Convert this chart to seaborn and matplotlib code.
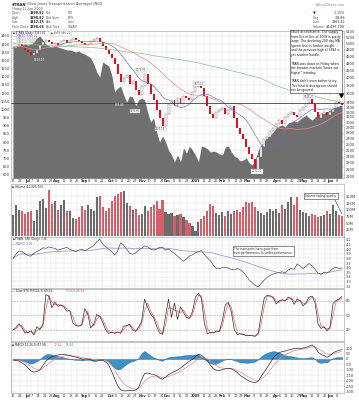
import numpy as np
import pandas as pd
import matplotlib
matplotlib.use("Agg")
import matplotlib.pyplot as plt
import seaborn as sns
from matplotlib.lines import Line2D

# values, roughly one point every two trading days
close = [4848, 4911, 4975, 4880, 4786, 4725, 4634, 4694, 4786, 4943,
         5040, 5105, 5040, 4975, 5007, 4943, 5072, 5105, 5007, 5105,
         5171, 5105, 5072, 5007, 4943, 4975, 5072, 5138, 5171, 5040,
         4911, 4786, 4664, 4545, 4373, 4099, 3893, 3995, 4073, 3843,
         3918, 3697, 3580, 3794, 4099, 3843, 3603, 3467, 3250, 3087,
         2931, 3167, 3378, 3467, 3335, 3511, 3378, 3557, 3511, 3467,
         3650, 3770, 3893, 3745, 3557, 3335, 3167, 3087, 3208, 3250,
         3292, 3167, 3250, 3335, 3087, 2893, 2784, 2678, 2543, 2431,
         2354, 2200, 2384, 2543, 2678, 2730, 2838, 2893, 2969, 3047,
         2969, 3106, 3167, 3208, 3147, 3106, 3250, 3313, 3400, 3511,
         3378, 3208, 3087, 3167, 3208, 3147, 3208, 3292, 3422, 3400, 3361]

spx = [1388, 1388, 1388, 1394, 1400, 1394, 1400, 1413, 1437, 1449,
       1425, 1400, 1388, 1382, 1388, 1382, 1376, 1370, 1364, 1364,
       1358, 1351, 1358, 1345, 1339, 1327, 1315, 1278, 1229, 1198,
       1290, 1278, 1266, 1211, 1107, 1131, 1143, 1088, 1045, 1082,
       1076, 1021, 1058, 1070, 1058, 984, 923, 947, 862, 800,
       837, 800, 751, 721, 678, 721, 678, 764, 733, 776,
       751, 721, 678, 776, 770, 758, 739, 745, 739, 727,
       721, 770, 776, 739, 715, 703, 684, 690, 703, 672,
       660, 690, 751, 782, 807, 831, 843, 862, 886, 898,
       905, 892, 917, 923, 929, 923, 941, 953, 966, 947,
       935, 953, 966, 978, 978, 984, 996, 1009, 1015, 1021, 1027]

volume = [82, 116, 99, 97, 84, 90, 94, 57, 99, 132,
          140, 107, 172, 122, 134, 99, 119, 137, 94, 97,
          70, 65, 72, 112, 99, 119, 103, 94, 147, 152,
          109, 97, 107, 132, 153, 159, 165, 169, 124, 112,
          99, 102, 82, 84, 112, 97, 109, 119, 132, 103,
          137, 90, 84, 87, 78, 82, 84, 72, 62, 50,
          41, 22, 53, 66, 75, 94, 122, 112, 87, 80,
          92, 78, 97, 84, 94, 99, 90, 109, 128, 124,
          127, 109, 97, 87, 82, 90, 102, 94, 103, 87,
          119, 103, 127, 147, 116, 147, 99, 92, 87, 78,
          84, 82, 72, 75, 82, 97, 84, 116, 97, 82, 78]

ratio = [3.80, 3.89, 3.96, 3.95, 3.90, 3.86, 3.85, 3.91, 3.95, 3.98,
         4.03, 4.02, 4.05, 4.03, 4.02, 3.98, 4.00, 4.02, 4.04, 4.00,
         3.97, 3.95, 3.98, 4.00, 3.97, 4.00, 4.04, 4.08, 4.16, 4.22,
         4.11, 4.05, 4.00, 3.95, 3.87, 3.97, 4.14, 4.09, 4.00, 3.91,
         3.89, 3.92, 3.98, 4.02, 4.07, 4.05, 4.00, 3.98, 4.00, 4.04,
         4.04, 3.98, 4.00, 3.95, 3.91, 3.85, 3.79, 3.74, 3.79, 3.85,
         3.88, 3.92, 3.95, 3.97, 3.88, 3.81, 3.75, 3.65, 3.58, 3.58,
         3.60, 3.61, 3.59, 3.56, 3.55, 3.58, 3.55, 3.50, 3.42, 3.33,
         3.27, 3.21, 3.18, 3.26, 3.33, 3.39, 3.43, 3.46, 3.48, 3.49,
         3.51, 3.48, 3.55, 3.58, 3.56, 3.68, 3.63, 3.58, 3.63, 3.69,
         3.63, 3.56, 3.48, 3.45, 3.50, 3.48, 3.53, 3.58, 3.61, 3.58, 3.59]

stoch_k = [20, 25, 33, 25, 14, 15, 18, 10, 27, 21,
           32, 93, 90, 66, 78, 69, 72, 68, 59, 60,
           35, 29, 28, 31, 64, 53, 24, 32, 52, 48,
           36, 20, 13, 16, 13, 16, 13, 28, 29, 32,
           20, 17, 26, 37, 84, 67, 53, 46, 28, 14,
           11, 48, 84, 46, 76, 42, 68, 56, 46, 44,
           58, 88, 96, 85, 34, 12, 15, 14, 18, 17,
           40, 72, 77, 58, 20, 11, 12, 11, 8, 9,
           8, 7, 14, 51, 86, 92, 90, 87, 74, 80,
           83, 80, 88, 85, 73, 84, 80, 70, 77, 88,
           90, 76, 32, 23, 27, 18, 27, 75, 81, 84, 89]

macd = [-9, -14, -18, -36, -52, -80, -110, -120, -115, -100,
        -60, -20, 6, 21, 29, 36, 41, 40, 37, 33,
        24, 18, 10, 0, 0, 0, -7, -20, -20, -12,
        -12, -28, -56, -114, -182, -245, -282, -292, -292, -288,
        -292, -286, -262, -189, -133, -129, -136, -142, -152, -175,
        -186, -166, -143, -129, -115, -101, -83, -62, -40, -20,
        -3, 24, 42, 36, 8, -18, -56, -90, -104, -106,
        -97, -90, -85, -90, -106, -125, -152, -168, -188, -203,
        -212, -218, -202, -159, -118, -78, -34, 8, 38, 58,
        68, 73, 82, 90, 95, 96, 96, 100, 106, 118,
        128, 108, 64, 42, 31, 15, 32, 55, 70, 80, 88]

ma200_dates = ["2008-06-16", "2008-07-15", "2008-08-15", "2008-09-15", "2008-10-01",
               "2008-10-15", "2008-11-03", "2008-11-17", "2008-12-01", "2008-12-15",
               "2009-01-02", "2009-01-15", "2009-02-02", "2009-02-17", "2009-03-02",
               "2009-03-16", "2009-04-01", "2009-04-15", "2009-05-01", "2009-05-15",
               "2009-06-01", "2009-06-12"]
ma200 = [4990, 4945, 4900, 4860, 4800, 4740, 4680, 4610, 4560, 4500, 4420,
         4340, 4250, 4160, 4080, 3990, 3800, 3700, 3620, 3530, 3460, 3422]

holidays = ["2008-07-04", "2008-09-01", "2008-11-27", "2008-12-25", "2009-01-01",
            "2009-01-19", "2009-02-16", "2009-04-10", "2009-05-25"]

note = ("Stuck at resistance. The supply\n"
        "from Oct to Dec of 2008 is pretty\n"
        "large. The declining 200 day MA\n"
        "(green line) is further weight\n"
        "and the previous high of 3384 is\n"
        "yet another hurdle.\n\n"
        "TRAN was down on Friday when\n"
        "the broader markets \"broke out\n"
        "higher\" intraday.\n\n"
        "TRAN didn't even bother to try.\n"
        "This kind of divergence should\n"
        "not be ignored.")

sns.set_theme(style="white")
plt.rcParams["font.family"] = ["DejaVu Sans"]

W, H = 359, 400
LEFT, RIGHT = 11, 344
fig = plt.figure(figsize=(W / 100, H / 100), dpi=100)

days = pd.bdate_range("2008-06-16", "2009-06-12", freq="C", holidays=holidays)
nd = len(days)
x = np.linspace(0, nd - 1, len(close))
ma200_x = days.searchsorted(pd.to_datetime(ma200_dates))

# date ticks: month name at first trading day of the month, day number at week start
month_k, week_k = [], []
for k in range(nd):
    if k > 0 and days[k].month != days[k - 1].month:
        month_k.append(k)
    elif k == 0 or days[k].weekday() < days[k - 1].weekday():
        week_k.append(k)
week_k = [k for k in week_k if not any(0 < m - k <= 3 or 0 < k - m <= 2 for m in month_k)]
tick_pos = sorted(month_k + week_k)
tick_lab = []
for k in tick_pos:
    if k in month_k:
        tick_lab.append("2009" if days[k].month == 1 else days[k].strftime("%b"))
    else:
        tick_lab.append(str(days[k].day))


def panel(top, bottom):
    ax = fig.add_axes([LEFT / W, 1 - bottom / H, (RIGHT - LEFT) / W, (bottom - top) / H])
    ax.yaxis.tick_right()
    ax.tick_params(length=0, labelsize=2.6, pad=1, colors="#333333")
    ax.tick_params(axis="x", labelbottom=False)
    ax.grid(True, color="#e0e0e0", lw=0.35)
    ax.set_axisbelow(True)
    for s in ax.spines.values():
        s.set_color("#9a9a9a")
        s.set_linewidth(0.4)
    return ax


def finish(ax, labels=False):
    ax.set_xlim(-1.5, nd + 0.5)
    ax.set_xticks(tick_pos)
    ax.set_xlabel("")
    ax.set_ylabel("")
    if labels:
        ax.set_xticklabels(tick_lab)
        ax.tick_params(axis="x", labelbottom=True, labelsize=2.5)
        for t, k in zip(ax.get_xticklabels(), tick_pos):
            if k in month_k:
                t.set_fontweight("bold")


def txt(px, py, s, **kw):
    kw.setdefault("fontsize", 2.3)
    kw.setdefault("va", "center")
    kw.setdefault("color", "#222222")
    return fig.text(px / W, 1 - py / H, s, **kw)


c = np.array(close, float)
opens = np.r_[c[0], c[:-1]]
up = c >= opens

# ---- price panel ----
ax_l = panel(31, 178)
ax_l.yaxis.tick_left()
ax_l.fill_between(x, 0, spx, color="#6f6f6f", lw=0)
ax_l.set_ylim(580, 1480)
ax_l.set_yticks(range(600, 1451, 50))
finish(ax_l, labels=True)

ax_r = ax_l.twinx()
ax_r.set_yscale("log")
ax_r.set_ylim(2085, 5420)
price_ticks = list(range(2100, 3500, 100)) + list(range(3600, 5401, 200))
ax_r.set_yticks(price_ticks)
ax_r.set_yticklabels([str(t) for t in price_ticks])
ax_r.minorticks_off()
ax_r.tick_params(length=0, labelsize=2.6, pad=1, colors="#333333")
for s in ax_r.spines.values():
    s.set_visible(False)

bottom = np.minimum(opens, c)
height = np.maximum(np.abs(c - opens), c * 0.004)
ax_r.bar(x[~up], height[~up], bottom=bottom[~up], width=1.5, color="#e3101c", lw=0, zorder=3)
ax_r.bar(x[up], height[up], bottom=bottom[up], width=1.5, facecolor="white",
         edgecolor="#707070", lw=0.3, zorder=3)
cs = pd.Series(c)
sns.lineplot(x=x, y=cs.rolling(10, min_periods=1).mean().to_numpy(), ax=ax_r,
             color="#6a6ad0", lw=0.45, zorder=4)
sns.lineplot(x=x, y=cs.rolling(25, min_periods=1).mean().to_numpy(), ax=ax_r,
             color="#f08a8a", lw=0.5, zorder=4)
sns.lineplot(x=ma200_x, y=ma200, ax=ax_r, color="#8fbf8f", lw=0.5, zorder=4)
ax_r.axhline(3400, color="#404040", lw=0.6, zorder=5)
ax_r.set_ylim(2085, 5420)
finish(ax_r)

# ---- volume ----
ax_v = panel(184, 237)
ax_v.bar(x, volume, width=1.6, color=np.where(up, "#6b6b6b", "#d45f68"), lw=0)
ax_v.set_ylim(-1.9, 196)
ax_v.set_yticks(range(25, 151, 25))
ax_v.set_yticklabels([f"{v}M" for v in range(25, 151, 25)])
finish(ax_v)

# ---- relative strength ----
ax_q = panel(237, 288)
rs = pd.Series(ratio)
sns.lineplot(x=x, y=rs.rolling(25, min_periods=1).mean().to_numpy(), ax=ax_q,
             color="#8c8cd0", lw=0.5)
sns.lineplot(x=x, y=ratio, ax=ax_q, color="#404040", lw=0.45)
ax_q.set_ylim(3.157, 4.265)
q_ticks = [round(3.2 + 0.1 * i, 1) for i in range(11)]
ax_q.set_yticks(q_ticks)
ax_q.set_yticklabels([f"{t:.1f}" for t in q_ticks])
finish(ax_q)

# ---- slow stochastic ----
ax_s = panel(289, 341)
ks = pd.Series(stoch_k, dtype=float)
for lvl in (20, 50, 80):
    ax_s.axhline(lvl, color="#a8a8a8", lw=0.4, ls=(0, (3, 2)))
sns.lineplot(x=x, y=ks.rolling(2, min_periods=1).mean().to_numpy(), ax=ax_s,
             color="#f06060", lw=0.5)
sns.lineplot(x=x, y=stoch_k, ax=ax_s, color="#303030", lw=0.5)
ax_s.set_ylim(-2.8, 104.8)
ax_s.set_yticks([20, 50, 80])
finish(ax_s)

# ---- MACD ----
ax_m = panel(342, 393)
ms = pd.Series(macd, dtype=float)
sig = ms.ewm(span=5, adjust=False).mean()
hist = (ms - sig).to_numpy()
ax_m.fill_between(x, 0, hist, color="#3d8fc6", lw=0.3, edgecolor="#2a6f9f")
sns.lineplot(x=x, y=sig.to_numpy(), ax=ax_m, color="#f08585", lw=0.5)
sns.lineplot(x=x, y=macd, ax=ax_m, color="#303030", lw=0.5)
ax_m.set_ylim(-312, 156)
m_ticks = list(range(-300, 101, 50))
ax_m.set_yticks(m_ticks)
ax_m.set_yticklabels([str(t) for t in m_ticks])
finish(ax_m, labels=True)

# ---- header ----
txt(12, 4.5, "$TRAN", fontweight="bold", fontsize=2.8)
txt(27, 4.5, "(Dow Jones Transportation Average) INDX", fontsize=2.6, color="#444444")
txt(345, 4.5, "@StockCharts.com", ha="right", color="#888888")
txt(12, 9, "Friday 12-Jun-2009", color="#555555")
rows = [("Open", "3398.82", "Bid", "P/E"), ("High", "3398.82", "Bid Size", "EPS"),
        ("Low", "3312.35", "Ask", "Last"), ("Prev Close", "3398.66", "Ask Size", "VWAP")]
for j, (a, b, cc, d) in enumerate(rows):
    yy = 13.3 + 4.45 * j
    txt(12, yy, a, color="#555555")
    txt(30, yy, b, fontweight="bold")
    txt(46, yy, cc, color="#555555")
    txt(68, yy, d, color="#555555")
txt(313, 13.3, "\u25bc", color="#cc0000", fontsize=2.6)
txt(345, 13.3, "-1.15%", ha="right", color="#cc0000")
for j, (a, b) in enumerate([("Chg", "-38.86"), ("Last", "3361.42"), ("Volume", "44,497,700")]):
    txt(313, 17.7 + 4.45 * j, a, color="#555555")
    txt(345, 17.7 + 4.45 * j, b, ha="right")

# ---- price panel legend and labels ----
txt(13, 33, "\u25aa $TRAN (Daily) 3361.42", fontsize=1.9)
txt(13, 36, "\u2014 MA(20) 3305.21", fontsize=1.9, color="#5a5ac8")
txt(13, 39, "\u2014 MA(50) 3211.40", fontsize=1.9, color="#e06a6a")
txt(13, 42, "\u2014 MA(200) 3422.06", fontsize=1.9, color="#6aa86a")
txt(51, 33, "\u25aa $SPX 946.21", fontsize=1.9, color="#444444",
    bbox=dict(boxstyle="square,pad=0.2", fc="white", ec="#bbbbbb", lw=0.3))
box = dict(boxstyle="square,pad=0.15", fc="white", ec="#aaaaaa", lw=0.3)
for px, py, s in [(141, 70, "4072.93"), (135, 111, "3390.66"), (160, 129, "2925.16"),
                  (199, 84, "3723.53"), (257, 171.5, "2134.21"), (309, 97, "3546.27")]:
    txt(px, py, s, ha="center", fontsize=1.8, color="#555555", bbox=box)
txt(39, 60, "1313.15", ha="center", fontsize=2.0, color="white")
txt(120, 105, "839.80", ha="center", fontsize=2.0, color="white")
fig.text(291 / W, 1 - 30.5 / H, note, ha="left", va="top", fontsize=2.2, linespacing=1.15,
         color="#111111", bbox=dict(boxstyle="square,pad=0.3", fc="white", ec="#222222", lw=0.4))
fig.add_artist(Line2D([341 / W], [1 - 94.5 / H], marker="v", color="black", markersize=2.6,
                      transform=fig.transFigure))

# ---- indicator panel captions and notes ----
txt(12, 186.5, "\u25aa Volume 44,497,700", fontsize=2.1)
txt(321, 196, "Volume fading quickly.", ha="center", fontsize=2.1,
    bbox=dict(boxstyle="square,pad=0.25", fc="white", ec="#333333", lw=0.4))
fig.add_artist(Line2D([335 / W, 342 / W], [1 - 200 / H, 1 - 214 / H], color="#333333",
                      lw=0.4, transform=fig.transFigure))
txt(12, 239.0, "\u25aa $TRAN:$SPX (Daily) 3.55", fontsize=2.0)
txt(12, 243.6, "\u2014 MA(50) 3.50", fontsize=2.0, color="#6a6ac0")
txt(234, 251, "The transports have gone from\nover-performance, to under-performance.",
    fontsize=2.1, linespacing=1.2,
    bbox=dict(boxstyle="square,pad=0.3", fc="white", ec="#333333", lw=0.4))
txt(12, 291, "\u2014 Slow STO %K(14,3) 89.26,", fontsize=2.1)
txt(66, 291, "%D(3) 86.91", fontsize=2.1, color="#e05050")
txt(12, 344.5, "\u25aa MACD(12,26,9) 87.98,", fontsize=2.1)
txt(54, 344.5, "72.44,", fontsize=2.1, color="#e06a6a")
txt(66, 344.5, "15.54", fontsize=2.1, color="#2a7fbf")

fig.savefig("out.png", dpi=100)
